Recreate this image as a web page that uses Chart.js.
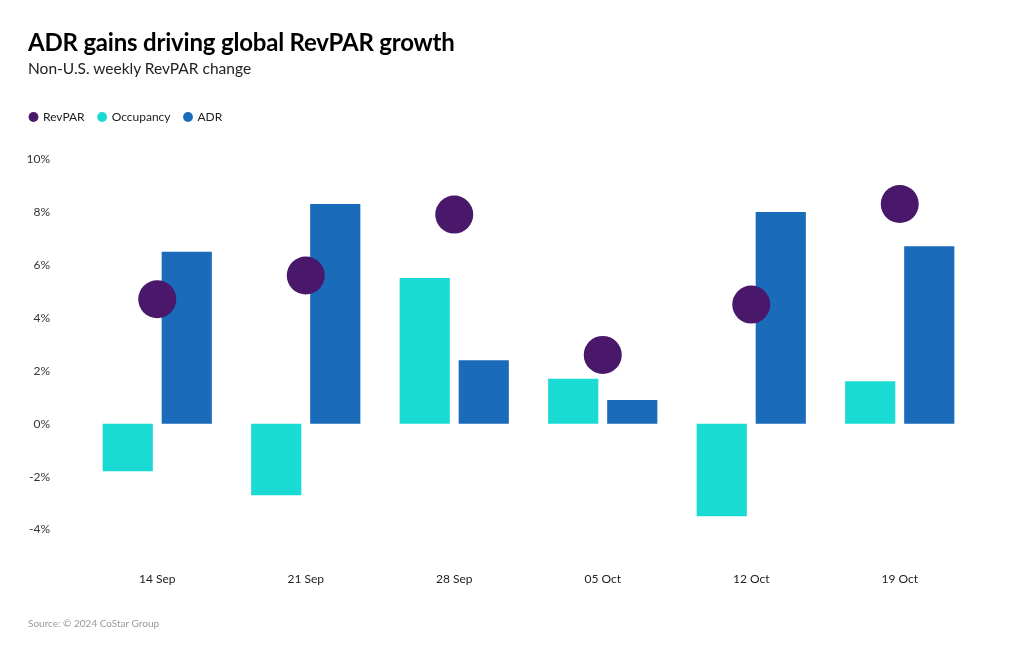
<!DOCTYPE html>
<html>
<head>
<meta charset="utf-8">
<script src="https://cdn.jsdelivr.net/npm/chart.js@4"></script>
<style>
  html, body { margin: 0; padding: 0; background: #fff; }
  body { width: 1020px; height: 650px; position: relative; overflow: hidden; font-family: Lato, "Open Sans", sans-serif; }
  #title { position: absolute; left: 28px; top: 27px; font-size: 24px; font-weight: 700; color: #000; letter-spacing: -0.2px; }
  #subtitle { position: absolute; left: 28px; top: 59px; font-size: 15.5px; color: #222; }
  #source { position: absolute; left: 28px; top: 617px; font-size: 10px; color: #999; }
  #wrap { position: absolute; left: 0; top: 0; width: 1020px; height: 650px; }
</style>
</head>
<body>
<div id="wrap"><canvas id="c" width="1020" height="650"></canvas></div>
<div id="title">ADR gains driving global RevPAR growth</div>
<div id="subtitle">Non-U.S. weekly RevPAR change</div>
<div id="source">Source: © 2024 CoStar Group</div>
<script>
const categories = ["14 Sep", "21 Sep", "28 Sep", "05 Oct", "12 Oct", "19 Oct"];
const revpar = [4.7, 5.6, 7.9, 2.6, 4.5, 8.3];
const occupancy = [-1.8, -2.7, 5.5, 1.7, -3.5, 1.6];
const adr = [6.5, 8.3, 2.4, 0.9, 8.0, 6.7];
const yTicks = [-4, -2, 0, 2, 4, 6, 8, 10];

const FONT = "Lato, 'Open Sans', sans-serif";

const legendMargin = {
  id: 'legendMargin',
  beforeInit(chart) {
    const lg = chart.legend;
    if (!lg) return;
    const origFit = lg.fit;
    lg.fit = function () { origFit.call(this); this.height += 26; };
  }
};

new Chart(document.getElementById('c'), {
  data: {
    labels: categories,
    datasets: [
      {
        type: 'line', label: 'RevPAR', data: revpar,
        showLine: false, backgroundColor: '#4a186b', borderColor: '#4a186b',
        pointRadius: 19, pointHoverRadius: 19, pointBorderWidth: 0, pointStyle: 'circle'
      },
      {
        type: 'bar', label: 'Occupancy', data: occupancy,
        backgroundColor: '#19dbd3', borderWidth: 0,
        categoryPercentage: 0.795, barPercentage: 0.85
      },
      {
        type: 'bar', label: 'ADR', data: adr,
        backgroundColor: '#1a6bba', borderWidth: 0,
        categoryPercentage: 0.795, barPercentage: 0.85
      }
    ]
  },
  plugins: [legendMargin],
  options: {
    responsive: false,
    animation: false,
    layout: { padding: { left: 16, right: 46, top: 97, bottom: 22 } },
    plugins: {
      tooltip: { enabled: false },
      legend: {
        position: 'top', align: 'start',
        labels: {
          usePointStyle: true, pointStyle: 'circle', boxWidth: 7, boxHeight: 7,
          color: '#222', font: { family: FONT, size: 12 }, padding: 14,
          generateLabels(chart) {
            return chart.data.datasets.map((d, i) => ({
              text: d.label, fillStyle: d.backgroundColor, strokeStyle: d.backgroundColor,
              lineWidth: 0, pointStyle: 'circle', datasetIndex: i, hidden: false,
              fontColor: '#222'
            }));
          }
        }
      }
    },
    scales: {
      x: {
        grid: { display: false, drawTicks: false }, border: { display: false },
        ticks: { color: '#222', font: { family: FONT, size: 12 }, padding: 42 }
      },
      y: {
        min: -4, max: 10,
        afterFit(scale) { scale.width = 67; },
        afterBuildTicks(scale) { scale.ticks = yTicks.map(v => ({ value: v })); },
        grid: { display: false, drawTicks: false }, border: { display: false },
        ticks: { color: '#333', font: { family: FONT, size: 12 }, padding: 33,
                 callback: v => v + '%' }
      }
    }
  }
});
</script>
</body>
</html>
